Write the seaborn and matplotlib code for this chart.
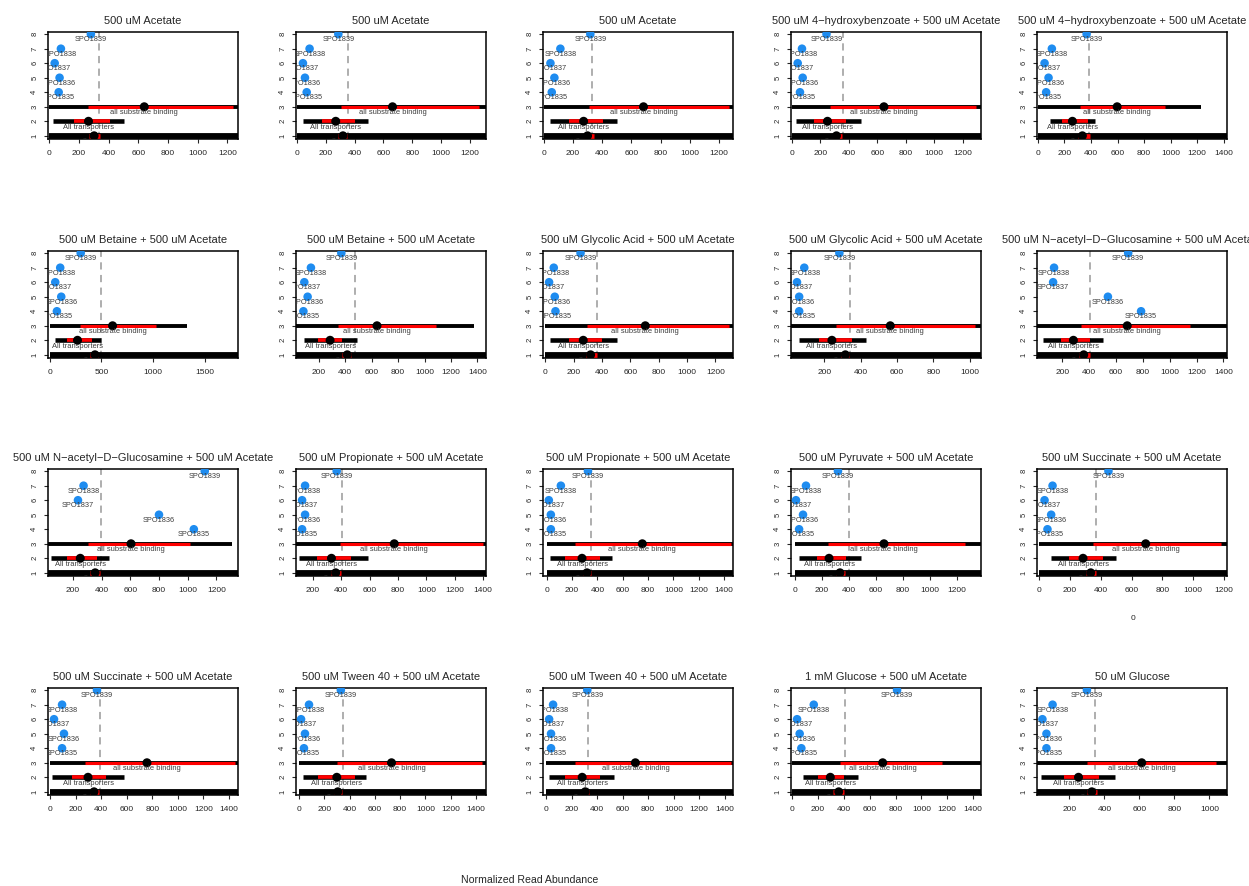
import numpy as np
import pandas as pd
import matplotlib
matplotlib.use("Agg")
import matplotlib.pyplot as plt
import seaborn as sns
from matplotlib.ticker import MultipleLocator

sns.set_style("ticks")
plt.rcParams['font.family'] = ['Liberation Sans', 'DejaVu Sans']

# ---------------- data ----------------
titles = [
    "500 uM Acetate", "500 uM Acetate", "500 uM Acetate",
    "500 uM 4\u2212hydroxybenzoate + 500 uM Acetate", "500 uM 4\u2212hydroxybenzoate + 500 uM Acetate",
    "500 uM Betaine + 500 uM Acetate", "500 uM Betaine + 500 uM Acetate",
    "500 uM Glycolic Acid + 500 uM Acetate", "500 uM Glycolic Acid + 500 uM Acetate",
    "500 uM N\u2212acetyl\u2212D\u2212Glucosamine + 500 uM Acetate",
    "500 uM N\u2212acetyl\u2212D\u2212Glucosamine + 500 uM Acetate",
    "500 uM Propionate + 500 uM Acetate", "500 uM Propionate + 500 uM Acetate",
    "500 uM Pyruvate + 500 uM Acetate", "500 uM Succinate + 500 uM Acetate",
    "500 uM Succinate + 500 uM Acetate", "500 uM Tween 40 + 500 uM Acetate",
    "500 uM Tween 40 + 500 uM Acetate", "1 mM Glucose + 500 uM Acetate", "50 uM Glucose",
]

genes = ["SPO1835", "SPO1836", "SPO1837", "SPO1838", "SPO1839"]
gene_pos = [4, 5, 6, 7, 8]

# abundance of SPO1835..SPO1839 in each condition
gene_vals = [
    [63, 69, 36, 78, 280], [69, 57, 43, 89, 288], [55, 73, 46, 114, 319],
    [58, 77, 42, 72, 244], [62, 80, 50, 105, 367],
    [70, 112, 54, 102, 300], [83, 115, 90, 140, 370], [71, 66, 26, 59, 248],
    [62, 62, 50, 90, 283], [787, 540, 132, 139, 691],
    [1042, 799, 234, 273, 1118], [123, 144, 123, 144, 367], [32, 32, 16, 111, 325],
    [30, 59, 7, 81, 318], [53, 77, 34, 86, 449],
    [94, 109, 31, 94, 367], [39, 47, 16, 79, 331], [39, 39, 24, 55, 323],
    [72, 59, 39, 168, 812], [69, 69, 46, 104, 300],
]

cutoff = [338, 352, 328, 360, 387, 493, 470, 362, 343, 408,
          396, 403, 349, 400, 366, 390, 346, 331, 412, 347]

# all substrate binding genes: min, q1, median, q3, max
sub_lo = [0] * 20
sub_q1 = [264, 309, 312, 267, 317, 294, 345, 296, 266, 340,
          301, 388, 222, 244, 349, 273, 299, 228, 369, 300]
sub_med = [640, 663, 683, 647, 597, 608, 640, 705, 563, 684,
           604, 773, 754, 659, 691, 758, 732, 700, 701, 613]
sub_q3 = [1238, 1265, 1269, 1290, 955, 1030, 1085, 1296, 1031, 1151,
          1014, 1400, 1452, 1259, 1183, 1445, 1449, 1449, 1160, 1040]
sub_hi = [1500, 1500, 1500, 1500, 1230, 1327, 1377, 1500, 1200, 1600,
          1308, 1700, 1700, 1500, 1400, 1700, 1700, 1700, 1600, 1300]

# all transporters: min, q1, median, q3, max
tr_lo = [22, 46, 43, 30, 92, 48, 90, 31, 59, 60,
         46, 100, 24, 30, 75, 16, 31, 20, 85, 40]
tr_q1 = [168, 178, 175, 158, 180, 166, 190, 169, 169, 192,
         157, 230, 143, 163, 195, 170, 150, 150, 200, 170]
tr_med = [264, 270, 273, 251, 260, 269, 285, 267, 242, 283,
          250, 330, 278, 252, 284, 297, 299, 283, 296, 252]
tr_q3 = [410, 400, 403, 379, 380, 406, 378, 397, 352, 408,
         366, 470, 421, 378, 413, 440, 441, 425, 405, 370]
tr_hi = [504, 491, 501, 484, 430, 496, 485, 504, 431, 504,
         447, 590, 516, 489, 498, 578, 528, 535, 508, 462]

# all genes: min, q1, median, q3, max
all_lo = [0] * 20
all_q1 = [270, 285, 278, 290, 305, 390, 378, 285, 290, 324,
          320, 330, 285, 300, 306, 310, 280, 280, 320, 300]
all_med = [302, 320, 300, 314, 335, 438, 415, 319, 316, 360,
           354, 360, 317, 333, 334, 344, 307, 307, 361, 328]
all_q3 = [340, 350, 346, 351, 392, 470, 440, 361, 335, 408,
          388, 400, 350, 370, 370, 380, 340, 340, 400, 360]
all_hi = [100000] * 20

group_names = ["all genes", "All transporters", "all substrate binding"]
group_pos = [1, 2, 3]

x_min = [-9, -5, -5, -5, -7, -16, 27, -17, 17, 12,
         25, 80, -30, -30, -15, -16, -24, -24, -8, 15]
x_max = [1272, 1310, 1296, 1328, 1425, 1820, 1465, 1324, 1062, 1427,
         1350, 1420, 1470, 1378, 1219, 1470, 1480, 1465, 1461, 1100]
x_step = [200, 200, 200, 200, 200, 500, 200, 200, 200, 200,
          200, 200, 200, 200, 200, 200, 200, 200, 200, 200]

# ---------------- figure ----------------
W, H = 1249, 886
fig = plt.figure(figsize=(W / 100, H / 100), dpi=100)
col_left = [48, 296, 543, 791, 1037]
row_top = [32, 251, 469, 688]
aw, ah = 190, 107

BLUE = "#1E8CF0"
LABEL = "#3c3c3c"

for i in range(20):
    r, c = divmod(i, 5)
    ax = fig.add_axes([col_left[c] / W, 1 - (row_top[r] + ah) / H, aw / W, ah / H])
    ax.set_xlim(x_min[i], x_max[i])
    ax.set_ylim(0.78, 8.15)

    ax.axvline(cutoff[i], color="#a8a8a8", lw=1.3, ls=(0, (4, 3)), zorder=1)

    lows = [all_lo[i], tr_lo[i], sub_lo[i]]
    highs = [all_hi[i], tr_hi[i], sub_hi[i]]
    q1s = [all_q1[i], tr_q1[i], sub_q1[i]]
    q3s = [all_q3[i], tr_q3[i], sub_q3[i]]
    meds = [all_med[i], tr_med[i], sub_med[i]]
    lws = [4.2, 3.3, 2.8]
    for k in range(3):
        ax.hlines(group_pos[k], lows[k], highs[k], color="black", lw=lws[k], zorder=2)
        ax.hlines(group_pos[k], q1s[k], q3s[k], color="#ff0000", lw=lws[k] * 0.8, zorder=3)

    sdf = pd.DataFrame({"x": meds, "y": group_pos})
    sns.scatterplot(data=sdf, x="x", y="y", ax=ax, color="black", s=42,
                    edgecolor="none", zorder=4, legend=False)
    gdf = pd.DataFrame({"x": gene_vals[i], "y": gene_pos})
    sns.scatterplot(data=gdf, x="x", y="y", ax=ax, color=BLUE, s=38,
                    edgecolor="none", zorder=5, legend=False)

    for k in range(3):
        ax.annotate(group_names[k], xy=(meds[k], group_pos[k]), xytext=(0, -4.4),
                    textcoords="offset points", ha="center", va="center",
                    fontsize=5.4, color=LABEL, clip_on=True, zorder=6)
    for g, v, yp in zip(genes, gene_vals[i], gene_pos):
        ax.annotate(g, xy=(v, yp), xytext=(0, -4.0), textcoords="offset points",
                    ha="center", va="center", fontsize=5.3, color=LABEL,
                    clip_on=True, zorder=6)

    ax.set_xlabel("")
    ax.set_ylabel("")
    ax.xaxis.set_major_locator(MultipleLocator(x_step[i]))
    ax.set_yticks(range(1, 9))
    ax.set_yticklabels([str(v) for v in range(1, 9)], rotation=90, va="center")
    ax.tick_params(axis="x", labelsize=6, length=3, width=0.8, pad=5)
    ax.tick_params(axis="y", labelsize=5.5, length=3, width=0.8, pad=4)
    for sp in ax.spines.values():
        sp.set_visible(True)
        sp.set_color("black")
        sp.set_linewidth(1.1)
    ax.set_title(titles[i], fontsize=8.0, pad=6)

fig.text(1133 / W, 1 - 618 / H, "0", fontsize=6, ha="center", va="center")
fig.text(530 / W, 1 - 880 / H, "Normalized Read Abundance", fontsize=7.6,
         ha="center", va="center")

fig.savefig("out.png", dpi=100, facecolor="white")
